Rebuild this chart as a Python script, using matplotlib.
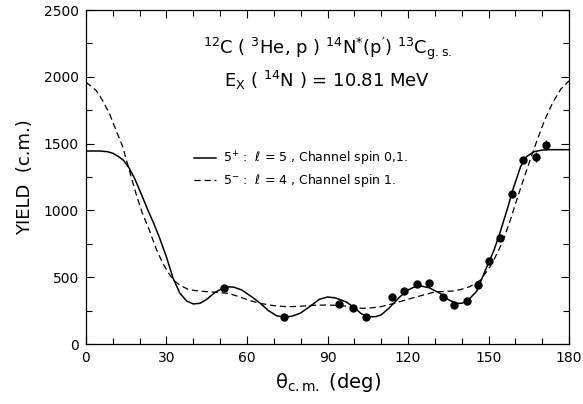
import numpy as np
import matplotlib
matplotlib.use('Agg')
import matplotlib.pyplot as plt
from matplotlib.ticker import MultipleLocator

plt.rcParams['font.family'] = ['DejaVu Sans']
plt.rcParams['mathtext.default'] = 'regular'

# measured points
theta_data = [51.4, 73.8, 94.3, 99.5, 104.4, 114.0, 118.5, 123.4, 127.8, 133.0,
              137.2, 142.0, 146.0, 150.2, 154.3, 158.8, 162.8, 167.7, 171.5]
yield_data = [420, 202, 299, 269, 202, 352, 397, 449, 456, 352,
              292, 322, 442, 621, 793, 1123, 1377, 1400, 1490]
yield_err = [0, 0, 0, 20, 0, 0, 25, 0, 0, 0,
             15, 0, 0, 0, 0, 0, 0, 35, 40]

# 5+ : l=5 fit (solid)
theta_solid = [0, 5, 8, 10, 12, 14, 16, 18, 20.5, 23, 25, 27.5, 30, 32.5, 35,
               37.5, 40, 42.5, 45, 48, 51, 53, 55, 58, 62, 65, 68, 71, 74, 77,
               80, 84, 87, 90, 93, 97, 100, 102.5, 105, 108, 110, 113, 117, 120,
               122.5, 125, 128, 132, 135, 138, 140, 142, 145.6, 149.3, 152,
               154.3, 157, 159.3, 162, 164.3, 167, 170, 173, 180]
yield_solid = [1445, 1445, 1440, 1428, 1405, 1375, 1320, 1245, 1128, 1005, 915,
               790, 650, 490, 380, 322, 300, 305, 335, 385, 418, 428, 426, 405,
               350, 304, 250, 212, 200, 210, 232, 290, 335, 352, 345, 315, 272,
               228, 204, 205, 218, 270, 354, 405, 428, 434, 420, 379, 332, 304,
               305, 320, 395, 575, 700, 835, 1010, 1170, 1330, 1405, 1440, 1452,
               1455, 1455]

# 5- : l=4 fit (dashed)
theta_dash = [0, 3.7, 6, 8.7, 11, 13.7, 16, 18.6, 21, 23.6, 26, 28.6, 30.5, 32.5,
              35, 38, 41, 45, 50, 53, 57, 61, 65, 70, 75, 80, 85, 90, 95, 100,
              103, 106, 110, 115, 120, 124.5, 130, 137, 140, 143, 147, 150.6,
              153, 155.5, 158, 160.5, 163, 165.5, 168, 171, 174, 177, 180]
yield_dash = [1960, 1900, 1830, 1727, 1610, 1477, 1310, 1128, 980, 853, 720,
              604, 540, 480, 440, 410, 399, 392, 385, 379, 355, 325, 304, 287,
              279, 283, 290, 292, 288, 275, 267, 270, 280, 305, 335, 360, 390,
              397, 410, 429, 479, 579, 670, 778, 920, 1078, 1230, 1377, 1520,
              1680, 1810, 1910, 1970]

fig = plt.figure(figsize=(5.83, 4.04), dpi=100)
ax = fig.add_axes([0.1475, 0.1485, 0.8285, 0.8265])

ax.plot(theta_solid, yield_solid, '-', color='black', lw=1.1,
        label=r'$5^{+}$ :  $\ell$ = 5 , Channel spin 0,1.')
ax.plot(theta_dash, yield_dash, '--', color='black', lw=0.9, dashes=(5, 3),
        label=r'$5^{-}$ :  $\ell$ = 4 , Channel spin 1.')
ax.errorbar(theta_data, yield_data, yerr=yield_err, fmt='o', color='black',
            ms=5, elinewidth=0.9, capsize=0)

ax.set_xlim(0, 180)
ax.set_ylim(0, 2500)
ax.xaxis.set_major_locator(MultipleLocator(30))
ax.xaxis.set_minor_locator(MultipleLocator(10))
ax.yaxis.set_major_locator(MultipleLocator(500))
ax.yaxis.set_minor_locator(MultipleLocator(250))
ax.tick_params(which='both', direction='in', top=True, right=True,
               labelsize=10, width=0.8)
ax.tick_params(which='major', length=6, pad=5)
ax.tick_params(which='minor', length=4)
for s in ax.spines.values():
    s.set_linewidth(0.9)

ax.set_ylabel('YIELD  (c.m.)', fontsize=13, labelpad=7)
ax.set_xlabel(r'$\theta_{c.m.}$ (deg)', fontsize=14, labelpad=4)

ax.text(0.5, 0.885,
        r'$^{12}$C ( $^{3}$He, p ) $^{14}$N$^{*}$(p$^{\prime}$) $^{13}$C$_{g.s.}$',
        transform=ax.transAxes, ha='center', va='center', fontsize=13)
ax.text(0.5, 0.79, r'E$_{X}$ ( $^{14}$N ) = 10.81 MeV',
        transform=ax.transAxes, ha='center', va='center', fontsize=13)

ax.legend(loc='upper left', bbox_to_anchor=(0.2, 0.615), frameon=False,
          fontsize=9, handlelength=1.8, handletextpad=0.5, labelspacing=0.3)

fig.savefig('out.png', dpi=100)
